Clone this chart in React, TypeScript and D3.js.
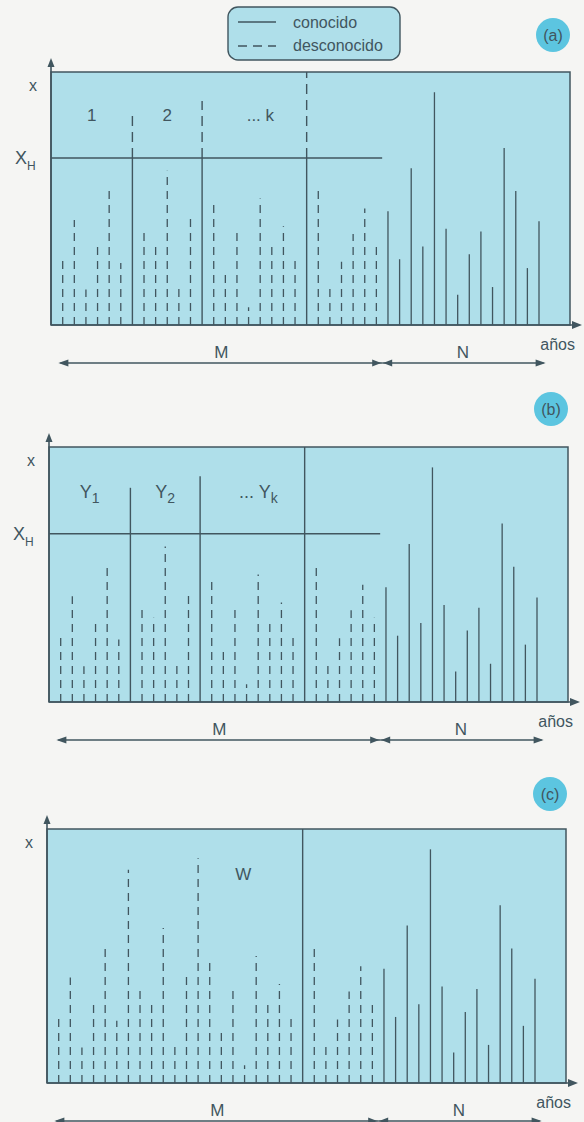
import React from 'react';
import * as d3 from 'd3';

// years shown on the axis (slot index, one per year)
const years = d3.range(42);
// M period: unknown values (dashed). null = boundary line at that slot
const mValues: (number | null)[] = [
  27, 41.5, 14, 31.5, 54, 24.5, 84, 38, 33, 61, 16, 43, 88.5, 49, 21, 38, 7, 50, 31, 39, 26,
  null, 53, 15, 25, 36, 46, 33,
];
// N period: known values (solid)
const nValues = [45, 26, 62, 31, 92, 38, 12, 28, 37, 15, 70, 53, 22.5, 41];
const boundarySlots = [6, 12, 21];
const xH = 66;
const legendLabels = ['conocido', 'desconocido'];
const periodLabelsA = ['1', '2', '... k'];
const periodLabelsB = [['Y', '1'], ['Y', '2'], ['... Y', 'k']];

const INK = '#41565f';
const FILL = '#afdfea';
const FONT = 'Liberation Sans, Arial, sans-serif';
const DASH = '8,6';

type Mode = 'a' | 'b' | 'c';

const panels: { mode: Mode; left: number; top: number; h: number; cx: number; cy: number }[] = [
  { mode: 'a', left: 51, top: 72, h: 253, cx: 553, cy: 35 },
  { mode: 'b', left: 49, top: 447, h: 255, cx: 551, cy: 409 },
  { mode: 'c', left: 47, top: 829, h: 254, cx: 550, cy: 794 },
];
const BOX_W = 519;

function Panel({ mode, left, top, h, cx, cy }: { mode: Mode; left: number; top: number; h: number; cx: number; cy: number }) {
  const bottom = top + h;
  const right = left + BOX_W;
  const x = d3.scaleLinear().domain([0, 41]).range([left + 11.7, left + 488]);
  const y = d3.scaleLinear().domain([0, 100]).range([bottom, top]);
  const mEnd = mValues.length;
  const yH = y(xH);

  const lines: React.ReactNode[] = [];
  mValues.forEach((v, i) => {
    const isBoundary = boundarySlots.includes(i);
    const px = x(years[i]);
    if (v == null) {
      // full-height period boundary
      if (mode === 'a') {
        lines.push(<line key={'b' + i} x1={px} x2={px} y1={bottom} y2={yH} stroke={INK} strokeWidth={1.4} />);
        lines.push(<line key={'bd' + i} x1={px} x2={px} y1={yH} y2={top} stroke={INK} strokeWidth={1.4} strokeDasharray="10,6" />);
      } else {
        lines.push(<line key={'b' + i} x1={px} x2={px} y1={bottom} y2={top} stroke={INK} strokeWidth={1.4} />);
      }
      return;
    }
    if (isBoundary && mode === 'a') {
      lines.push(<line key={'s' + i} x1={px} x2={px} y1={bottom} y2={yH} stroke={INK} strokeWidth={1.4} />);
      lines.push(<line key={'d' + i} x1={px} x2={px} y1={yH} y2={y(v)} stroke={INK} strokeWidth={1.4} strokeDasharray="10,6" />);
      return;
    }
    if (isBoundary && mode === 'b') {
      lines.push(<line key={'s' + i} x1={px} x2={px} y1={bottom} y2={y(v)} stroke={INK} strokeWidth={1.4} />);
      return;
    }
    lines.push(<line key={'d' + i} x1={px} x2={px} y1={bottom} y2={y(v)} stroke={INK} strokeWidth={1.3} strokeDasharray={DASH} />);
  });
  nValues.forEach((v, j) => {
    const px = x(years[mEnd + j]);
    lines.push(<line key={'n' + j} x1={px} x2={px} y1={bottom} y2={y(v)} stroke={INK} strokeWidth={1.3} />);
  });

  const regionCenters = [
    (x(-1) + x(boundarySlots[0])) / 2,
    (x(boundarySlots[0]) + x(boundarySlots[1])) / 2,
    (x(boundarySlots[1]) + x(boundarySlots[2])) / 2 + 6,
  ];
  const mStart = x(-0.2);
  const split = x(mEnd - 0.5);
  const nStop = x(41.4);
  const arrowY = bottom + 38;

  return (
    <g>
      <rect x={left} y={top} width={BOX_W} height={h} fill={FILL} stroke={INK} strokeWidth={1.5} />
      {lines}
      {mode !== 'c' && <line x1={left} x2={split} y1={yH} y2={yH} stroke={INK} strokeWidth={1.4} />}
      {/* axes */}
      <line x1={left} x2={left} y1={bottom} y2={top - 6} stroke={INK} strokeWidth={1.6} />
      <path d={`M${left},${top - 14} L${left - 3.5},${top - 5} L${left + 3.5},${top - 5} Z`} fill={INK} />
      <line x1={left} x2={right + 4} y1={bottom} y2={bottom} stroke={INK} strokeWidth={1.6} />
      <path d={`M${right + 12},${bottom} L${right + 2},${bottom - 4} L${right + 2},${bottom + 4} Z`} fill={INK} />
      <text x={left - 18} y={top + 19} fontSize={16} fill={INK} fontFamily={FONT} textAnchor="middle">x</text>
      {mode !== 'c' && (
        <text x={left - 36} y={yH + 6} fontSize={18} fill={INK} fontFamily={FONT}>
          X<tspan fontSize={12} dy={6}>H</tspan>
        </text>
      )}
      <text x={right + 5} y={bottom + 25} fontSize={16} fill={INK} fontFamily={FONT} textAnchor="end">años</text>
      {/* M / N spans */}
      <line x1={mStart} x2={split} y1={arrowY} y2={arrowY} stroke={INK} strokeWidth={1.3} />
      <line x1={split} x2={nStop} y1={arrowY} y2={arrowY} stroke={INK} strokeWidth={1.3} />
      <path d={`M${mStart - 2},${arrowY} L${mStart + 8},${arrowY - 3.5} L${mStart + 8},${arrowY + 3.5} Z`} fill={INK} />
      <path d={`M${split - 1},${arrowY} L${split - 10},${arrowY - 3.5} L${split - 10},${arrowY + 3.5} Z`} fill={INK} />
      <path d={`M${split + 1},${arrowY} L${split + 10},${arrowY - 3.5} L${split + 10},${arrowY + 3.5} Z`} fill={INK} />
      <path d={`M${nStop + 2},${arrowY} L${nStop - 8},${arrowY - 3.5} L${nStop - 8},${arrowY + 3.5} Z`} fill={INK} />
      <text x={(mStart + split) / 2} y={arrowY - 5} fontSize={17} fill={INK} fontFamily={FONT} textAnchor="middle">M</text>
      <text x={(split + nStop) / 2} y={arrowY - 5} fontSize={17} fill={INK} fontFamily={FONT} textAnchor="middle">N</text>
      {/* period labels */}
      {mode === 'a' &&
        periodLabelsA.map((t, i) => (
          <text key={t} x={regionCenters[i]} y={top + 49} fontSize={17} fill={INK} fontFamily={FONT} textAnchor="middle">{t}</text>
        ))}
      {mode === 'b' &&
        periodLabelsB.map((t, i) => (
          <text key={t[1]} x={regionCenters[i]} y={top + 51} fontSize={18} fill={INK} fontFamily={FONT} textAnchor="middle">
            {t[0]}
            <tspan fontSize={14} dy={5}>{t[1]}</tspan>
          </text>
        ))}
      {mode === 'c' && (
        <text x={regionCenters[2] - 13} y={top + 51} fontSize={17} fill={INK} fontFamily={FONT} textAnchor="middle">W</text>
      )}
      {/* panel tag */}
      <circle cx={cx} cy={cy} r={17} fill="#5cc5e0" />
      <text x={cx} y={cy + 6} fontSize={16} fill={INK} fontFamily={FONT} textAnchor="middle">({mode})</text>
    </g>
  );
}

export default function App() {
  return (
    <svg width={584} height={1122} style={{ position: 'absolute', left: 0, top: 0 }}>
      <rect width={584} height={1122} fill="#f5f5f3" />
      {/* legend */}
      <rect x={228} y={7} width={172} height={53} rx={10} fill={FILL} stroke={INK} strokeWidth={1.4} />
      <line x1={238} x2={276} y1={22} y2={22} stroke={INK} strokeWidth={1.3} />
      <line x1={238} x2={276} y1={46} y2={46} stroke={INK} strokeWidth={1.3} strokeDasharray="9,6" />
      {legendLabels.map((t, i) => (
        <text key={t} x={293} y={28 + i * 23} fontSize={16} fill={INK} fontFamily={FONT}>{t}</text>
      ))}
      {panels.map(p => (
        <Panel key={p.mode} {...p} />
      ))}
    </svg>
  );
}
